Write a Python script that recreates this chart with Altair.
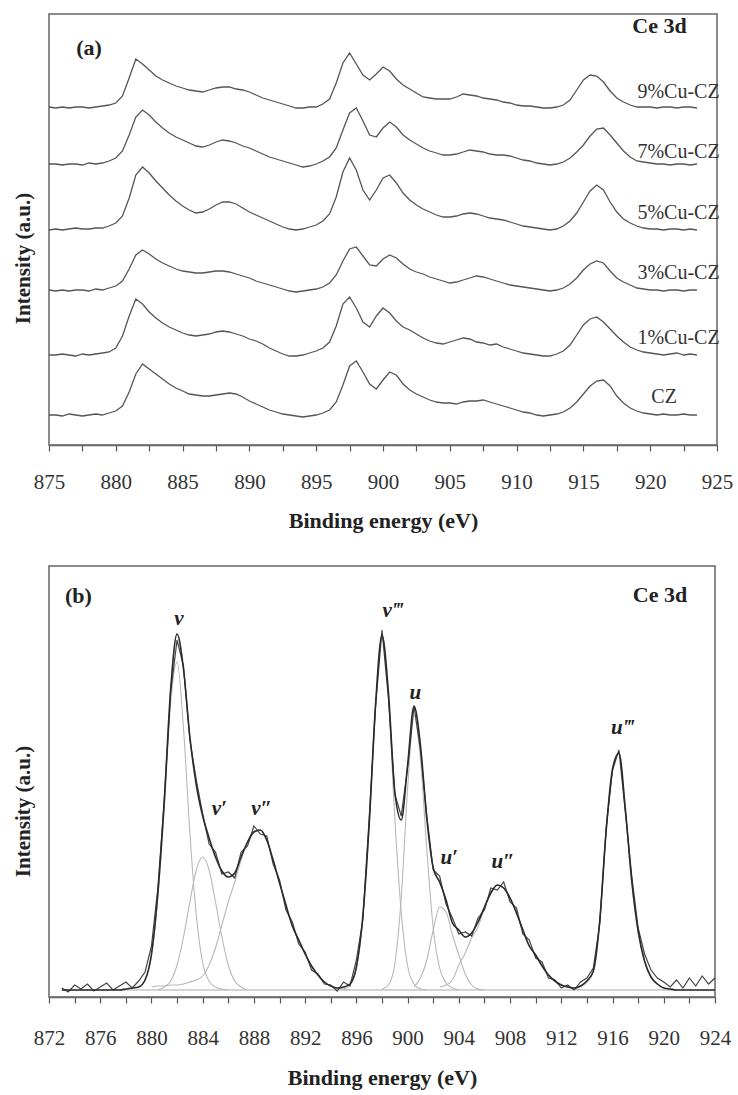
import altair as alt
import pandas as pd

# ---------------------------------------------------------------------------
# Panel (a): Ce 3d spectra of the CZ series.
# Intensity above each trace's own baseline, every 0.5 eV from 875.0 eV.
# ---------------------------------------------------------------------------
A_START, A_STEP = 875.0, 0.5

cz = [1,
      1, 0, 2, 1, 0, 1, 2, 1, 3, 5,
      10, 24, 42, 52, 47, 42, 37, 32, 28, 25,
      22, 21, 20, 20, 21, 22, 23, 22, 19, 15,
      12, 9, 6, 4, 2, 1, 0, -1, 0, 1,
      3, 6, 14, 31, 50, 55, 44, 32, 27, 36,
      44, 41, 32, 26, 22, 19, 16, 14, 13, 13,
      12, 14, 15, 15, 16, 14, 12, 10, 8, 6,
      4, 3, 1, 0, 1, 2, 4, 8, 14, 22,
      30, 35, 36, 30, 20, 13, 8, 5, 3, 2,
      1, 2, 1, 1, 2, 1, 1]

cu1 = [1,
       1, 2, 1, 0, 2, 1, 2, 3, 4, 8,
       20, 40, 57, 52, 44, 38, 33, 29, 26, 23,
       21, 20, 21, 22, 24, 25, 24, 22, 20, 17,
       15, 12, 8, 5, 2, 0, 0, 1, 3, 5,
       8, 14, 30, 52, 59, 48, 34, 29, 40, 48,
       43, 35, 29, 26, 22, 18, 15, 13, 12, 14,
       16, 18, 17, 14, 13, 11, 12, 9, 7, 5,
       3, 2, 1, 0, 0, 2, 5, 11, 21, 31,
       37, 39, 34, 27, 20, 14, 9, 6, 4, 3,
       2, 1, 2, 3, 1, 2, 1]

cu3 = [1,
       0, 1, 0, 1, 1, 0, 2, 1, 3, 5,
       10, 22, 36, 41, 37, 32, 28, 25, 22, 20,
       19, 18, 18, 19, 20, 20, 19, 17, 15, 13,
       10, 8, 6, 4, 2, 0, -1, 0, 1, 2,
       4, 8, 16, 30, 42, 44, 35, 26, 25, 32,
       36, 33, 27, 22, 19, 17, 14, 12, 10, 8,
       9, 11, 13, 15, 14, 12, 10, 8, 6, 5,
       4, 3, 2, 1, 0, 1, 3, 7, 13, 21,
       27, 30, 28, 20, 13, 9, 6, 3, 2, 1,
       1, 0, 1, 1, 0, 1, 1]

cu5 = [0,
       1, 0, 1, 2, 1, 1, 2, 2, 4, 7,
       14, 32, 55, 63, 57, 49, 42, 35, 29, 24,
       20, 17, 18, 21, 25, 28, 28, 26, 22, 18,
       15, 12, 9, 6, 3, 1, 0, 1, 3, 5,
       9, 16, 33, 58, 72, 60, 40, 30, 40, 52,
       55, 47, 37, 30, 25, 21, 18, 15, 13, 13,
       14, 16, 17, 16, 14, 12, 11, 10, 8, 6,
       4, 3, 2, 1, 0, 1, 4, 9, 17, 28,
       39, 45, 40, 28, 18, 11, 7, 4, 2, 1,
       1, 0, 1, 1, 0, 1, 0]

cu7 = [1,
       1, 0, 1, 1, 0, 2, 1, 2, 4, 7,
       14, 30, 48, 55, 50, 43, 37, 32, 28, 25,
       22, 19, 18, 20, 23, 25, 24, 22, 19, 17,
       14, 11, 8, 6, 4, 2, 0, -2, -1, 1,
       4, 8, 17, 35, 52, 57, 44, 30, 28, 37,
       43, 38, 30, 25, 21, 17, 14, 12, 10, 10,
       11, 13, 15, 14, 13, 11, 10, 10, 9, 7,
       5, 4, 2, 1, 0, 1, 3, 7, 13, 20,
       29, 36, 37, 30, 22, 14, 8, 4, 3, 2,
       1, 1, 0, 1, 1, 0, 1]

cu9 = [1,
       0, 1, 0, 1, 1, 0, 1, 2, 3, 5,
       12, 30, 49, 44, 38, 32, 28, 25, 22, 20,
       18, 17, 16, 18, 20, 21, 21, 19, 18, 16,
       13, 10, 8, 6, 4, 2, 0, 0, 1, 1,
       4, 9, 25, 45, 55, 44, 33, 28, 34, 41,
       37, 29, 23, 19, 15, 11, 10, 9, 9, 9,
       11, 14, 13, 12, 10, 9, 8, 6, 5, 3,
       2, 2, 1, 0, 0, 1, 3, 8, 18, 28,
       33, 32, 26, 17, 10, 6, 3, 1, 1, 1,
       0, 1, 1, 0, 1, 1, 0]

sample_names = ["CZ", "1%Cu-CZ", "3%Cu-CZ", "5%Cu-CZ", "7%Cu-CZ", "9%Cu-CZ"]
sample_traces = [cz, cu1, cu3, cu5, cu7, cu9]
stack_offset = [29, 89, 154, 215, 280, 337]

# ---------------------------------------------------------------------------
# Panel (b): fitted Ce 3d spectrum, every 0.5 eV from 873 eV to 924 eV.
# ---------------------------------------------------------------------------
B_START, B_STEP = 873.0, 0.5

measured = [2, -2, 5, 1, 6, -1, 3, 7, 0, 4,
            8, 2, 9, 18, 44, 102, 190, 298, 350, 324,
            250, 210, 176, 146, 138, 116, 118, 112, 138, 144,
            164, 156, 154, 126, 110, 80, 68, 46, 38, 20,
            16, 6, 5, -1, 8, 4, 30, 70, 172, 284,
            360, 292, 196, 174, 222, 284, 240, 174, 120, 114,
            86, 72, 56, 58, 54, 72, 80, 102, 100, 108,
            88, 82, 56, 50, 32, 28, 12, 10, 2, 5,
            0, 8, 12, 22, 66, 162, 220, 240, 178, 114,
            62, 36, 20, 12, 8, 3, 10, 2, 12, 4,
            14, 6, 12]

envelope = [0, 0, 0, 0, 0, 0, 0, 0, 0, 0,
            1, 2, 3, 10, 36, 97, 189, 301, 356, 321,
            253, 205, 174, 152, 133, 119, 113, 117, 133, 148,
            158, 160, 150, 130, 107, 85, 64, 50, 36, 24,
            15, 8, 4, 2, 3, 6, 23, 73, 166, 286,
            355, 298, 198, 170, 225, 284, 245, 171, 122, 108,
            90, 67, 60, 53, 57, 68, 83, 97, 105, 102,
            92, 77, 60, 44, 35, 24, 15, 9, 5, 3,
            2, 4, 9, 19, 69, 159, 221, 237, 181, 109,
            59, 29, 13, 6, 2, 1, 0, 0, 0, 0,
            0, 0, 0]

# fitted components: first energy, then values every 0.5 eV
comp_v = (879.0, [3, 10, 33, 93, 182, 287, 328, 262, 157, 75, 27, 9, 3, 1, 0])
comp_v1 = (880.5, [0, 3, 9, 25, 53, 88, 120, 133, 120, 88, 53, 25, 9, 3, 0])
comp_v2 = (880.0, [3, 4, 4, 5, 5, 6, 8, 10, 14, 25, 42, 65, 88, 108, 130, 148,
                   158, 160, 150, 130, 107, 85, 64, 50, 36, 24, 15, 8, 4, 2, 1, 0])
comp_v3 = (895.0, [1, 5, 22, 72, 165, 285, 352, 293, 172, 78, 24, 6, 1, 0])
comp_u = (898.0, [1, 5, 26, 92, 201, 275, 232, 140, 62, 22, 7, 2, 0])
comp_u1 = (900.5, [3, 12, 30, 60, 83, 78, 55, 35, 16, 5, 1, 0])
comp_u2 = (902.5, [3, 5, 10, 25, 37, 52, 63, 82, 97, 105, 102, 92, 77, 60, 44,
                   35, 24, 15, 9, 5, 3, 1, 0])
comp_u3 = (913.0, [1, 3, 8, 18, 68, 158, 220, 236, 180, 108, 58, 28, 13, 6, 2, 1, 0])

peak_names = ["v", "v\u2032", "v\u2033", "v\u2034", "u", "u\u2032", "u\u2033", "u\u2034"]
peak_components = [comp_v, comp_v1, comp_v2, comp_v3, comp_u, comp_u1, comp_u2, comp_u3]

# ---------------------------------------------------------------------------
# tables
# ---------------------------------------------------------------------------
rows = []
for name, trace, off in zip(sample_names, sample_traces, stack_offset):
    for i, val in enumerate(trace):
        rows.append({"sample": name, "energy": A_START + A_STEP * i, "y": val + off})
df_a = pd.DataFrame(rows)

df_meas = pd.DataFrame({"energy": [B_START + B_STEP * i for i in range(len(measured))],
                        "intensity": measured})
df_fit = pd.DataFrame({"energy": [B_START + B_STEP * i for i in range(len(envelope))],
                       "intensity": envelope})
comp_rows = []
for name, (start, vals) in zip(peak_names, peak_components):
    for i, val in enumerate(vals):
        comp_rows.append({"peak": name, "energy": start + B_STEP * i, "intensity": val})
df_comp = pd.DataFrame(comp_rows)

FONT = "Liberation Serif"
INK = "#333333"
LINE = "#555555"

# ---------------------------------------------------------------------------
# panel (a)
# ---------------------------------------------------------------------------
ticks_a = [875 + 2.5 * k for k in range(21)]
axis_xa = alt.Axis(title="Binding energy (eV)", values=ticks_a,
                   labelExpr="datum.value % 5 == 0 ? format(datum.value, 'd') : ''",
                   labelFlush=False, labelOverlap=False, grid=False,
                   tickSize=6, tickColor="#555", tickWidth=1.2,
                   domainColor="#666", domainWidth=1.5,
                   labelFont=FONT, labelFontSize=21, labelColor=INK, labelPadding=20,
                   titleFont=FONT, titleFontSize=22, titleFontWeight="bold",
                   titleColor="#222", titlePadding=18)
axis_ya = alt.Axis(title="Intensity (a.u.)", labels=False, ticks=False, domain=False,
                   grid=False, titleFont=FONT, titleFontSize=21, titleFontWeight="bold",
                   titleColor="#222", titlePadding=16, titleY=244)
xa = alt.X("energy:Q", scale=alt.Scale(domain=[875, 925], nice=False, zero=False), axis=axis_xa)
ya = alt.Y("y:Q", scale=alt.Scale(domain=[0, 431], nice=False, zero=False), axis=axis_ya)

traces_a = alt.Chart(df_a).mark_line(color=LINE, strokeWidth=1.3).encode(
    x=xa, y=ya, detail="sample:N")

sample_labels = pd.DataFrame({
    "text": ["9%Cu-CZ", "7%Cu-CZ", "5%Cu-CZ", "3%Cu-CZ", "1%Cu-CZ", "CZ"],
    "energy": [925.2, 925.2, 925.2, 925.2, 925.2, 922.0],
    "y": [353, 293, 232, 172, 107, 48],
})
labels_a = alt.Chart(sample_labels).mark_text(
    align="right", baseline="middle", font=FONT, fontSize=20, color=INK
).encode(x=xa, y=ya, text="text:N")

corner_a = pd.DataFrame({"text": ["(a)", "Ce 3d"], "energy": [878.0, 920.7], "y": [397, 419]})
titles_a = alt.Chart(corner_a).mark_text(
    align="center", baseline="middle", font=FONT, fontSize=22, fontWeight="bold", color="#222"
).encode(x=xa, y=ya, text="text:N")

panel_a = alt.layer(traces_a, labels_a, titles_a).properties(width=668, height=431)

# ---------------------------------------------------------------------------
# panel (b)
# ---------------------------------------------------------------------------
ticks_b = [872 + 2 * k for k in range(27)]
axis_xb = alt.Axis(title="Binding energy (eV)", values=ticks_b,
                   labelExpr="(datum.value - 872) % 4 == 0 ? format(datum.value, 'd') : ''",
                   labelFlush=False, labelOverlap=False, grid=False,
                   tickSize=6, tickColor="#555", tickWidth=1.2,
                   domainColor="#666", domainWidth=1.5,
                   labelFont=FONT, labelFontSize=21, labelColor=INK, labelPadding=24,
                   titleFont=FONT, titleFontSize=22, titleFontWeight="bold",
                   titleColor="#222", titlePadding=19)
axis_yb = alt.Axis(title="Intensity (a.u.)", labels=False, ticks=False, domain=False,
                   grid=False, titleFont=FONT, titleFontSize=21, titleFontWeight="bold",
                   titleColor="#222", titlePadding=16, titleY=245)
xb = alt.X("energy:Q", scale=alt.Scale(domain=[872, 924], nice=False, zero=False), axis=axis_xb)
yb = alt.Y("intensity:Q", scale=alt.Scale(domain=[-7, 424], nice=False, zero=False), axis=axis_yb)

base_b = alt.Chart(pd.DataFrame({"energy": [873.0], "energy2": [924.0], "intensity": [0]}))
baseline_b = base_b.mark_rule(color="#aaaaaa", strokeWidth=1.2).encode(
    x=xb, x2="energy2:Q", y=yb)

comps_b = alt.Chart(df_comp).mark_line(
    color="#b8b8b8", strokeWidth=1.1, interpolate="monotone"
).encode(x=xb, y=yb, detail="peak:N")

meas_b = alt.Chart(df_meas).mark_line(color="#444444", strokeWidth=1.2).encode(x=xb, y=yb)
fit_b = alt.Chart(df_fit).mark_line(
    color="#2a2a2a", strokeWidth=1.6, interpolate="monotone"
).encode(x=xb, y=yb)

peak_label_energy = [882.15, 885.3, 888.6, 898.85, 900.6, 903.25, 907.45, 916.8]
peak_label_intensity = [371, 181, 181, 379, 297, 132, 128, 262]
peak_labels = pd.DataFrame({"text": peak_names, "energy": peak_label_energy,
                            "intensity": peak_label_intensity})
labels_b = alt.Chart(peak_labels).mark_text(
    align="center", baseline="middle", font=FONT, fontSize=21, fontStyle="italic",
    fontWeight="bold", color="#222"
).encode(x=xb, y=yb, text="text:N")

corner_b = pd.DataFrame({"text": ["(b)", "Ce 3d"], "energy": [874.3, 919.7], "intensity": [394, 395]})
titles_b = alt.Chart(corner_b).mark_text(
    align="center", baseline="middle", font=FONT, fontSize=22, fontWeight="bold", color="#222"
).encode(x=xb, y=yb, text="text:N")

panel_b = alt.layer(baseline_b, comps_b, meas_b, fit_b, labels_b, titles_b).properties(
    width=666, height=431)

chart = alt.vconcat(panel_a, panel_b, spacing=33).properties(
    padding={"left": 11, "top": 13, "right": 0, "bottom": 4},
    background="white",
).configure_view(stroke="#666666", strokeWidth=1.5)

chart.save("out.html", embed_options={"renderer": "svg", "actions": False})
